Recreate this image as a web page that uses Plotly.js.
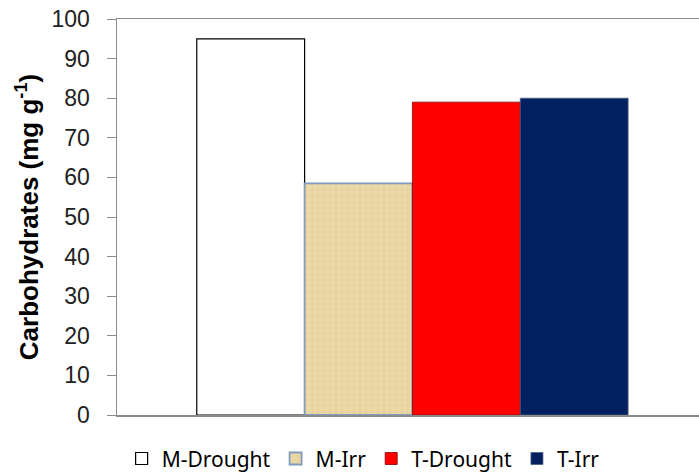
<!DOCTYPE html>
<html>
<head>
<meta charset="utf-8">
<script src="https://cdn.plot.ly/plotly-3.0.1.min.js"></script>
<style>
  html, body { margin: 0; padding: 0; background: #fff; }
  #chart { width: 699px; height: 475px; }
</style>
</head>
<body>
<div id="chart"></div>
<script>
// Treatments and their carbohydrate contents (mg g-1)
const treatments = ['M-Drought', 'M-Irr', 'T-Drought', 'T-Irr'];
const carbohydrates = [95, 58.5, 79, 80];
const group = ['all'];
const yTicks = [0, 10, 20, 30, 40, 50, 60, 70, 80, 90, 100];

// Fill and outline per treatment
const fills = ['#ffffff', '#ebd7a5', '#ff0000', '#002060'];
const outlines = ['#000000', '#7f9bbd', '#8a0000', '#4a5f80'];
const outlineWidths = [1.2, 1.8, 0.8, 0.8];

const traces = treatments.map((name, i) => {
  const marker = {
    color: fills[i],
    line: { color: outlines[i], width: outlineWidths[i] }
  };
  if (name === 'M-Irr') {
    // woven burlap look
    marker.pattern = {
      shape: '+',
      bgcolor: '#ecd9a8',
      fgcolor: '#d6bc85',
      fgopacity: 0.32,
      size: 6,
      solidity: 0.35
    };
  }
  return {
    type: 'bar',
    name: name,
    x: group,
    y: [carbohydrates[i]],
    marker: marker,
    hoverinfo: 'name+y'
  };
});

const layout = {
  width: 699,
  height: 475,
  margin: { l: 117, r: 0, t: 19, b: 60, pad: 0, autoexpand: false },
  paper_bgcolor: '#ffffff',
  plot_bgcolor: '#ffffff',
  barmode: 'group',
  bargap: 0.27,
  bargroupgap: 0,
  showlegend: true,
  legend: {
    orientation: 'h',
    xref: 'container',
    yref: 'container',
    x: 0.174,
    xanchor: 'left',
    y: 0.034,
    yanchor: 'middle',
    font: { family: 'Noto Sans, Open Sans, sans-serif', size: 21, color: '#000' },
    itemwidth: 30,
    traceorder: 'normal'
  },
  xaxis: {
    type: 'category',
    range: [-0.5, 0.485],
    showticklabels: false,
    ticks: '',
    showgrid: false,
    zeroline: false,
    showline: true,
    linecolor: '#8c8c8c',
    linewidth: 1.5,
    mirror: true,
    fixedrange: true
  },
  yaxis: {
    range: [0, 100],
    tickmode: 'array',
    tickvals: yTicks,
    ticktext: yTicks.map(String),
    ticks: 'outside',
    ticklen: 9,
    tickwidth: 1,
    tickcolor: '#8c8c8c',
    ticklabelstandoff: 12,
    showline: true,
    linecolor: '#8c8c8c',
    linewidth: 1.5,
    showgrid: false,
    zeroline: false,
    tickfont: { family: 'Liberation Sans, Arial, sans-serif', size: 23, color: '#222' },
    title: {
      text: 'Carbohydrates (mg g<sup>-1</sup>)',
      font: { family: 'Liberation Sans, Arial, sans-serif', size: 26, color: '#000', weight: 'bold' },
      standoff: 5
    },
    fixedrange: true
  }
};

Plotly.newPlot('chart', traces, layout, { displayModeBar: false, staticPlot: true });
</script>
</body>
</html>
